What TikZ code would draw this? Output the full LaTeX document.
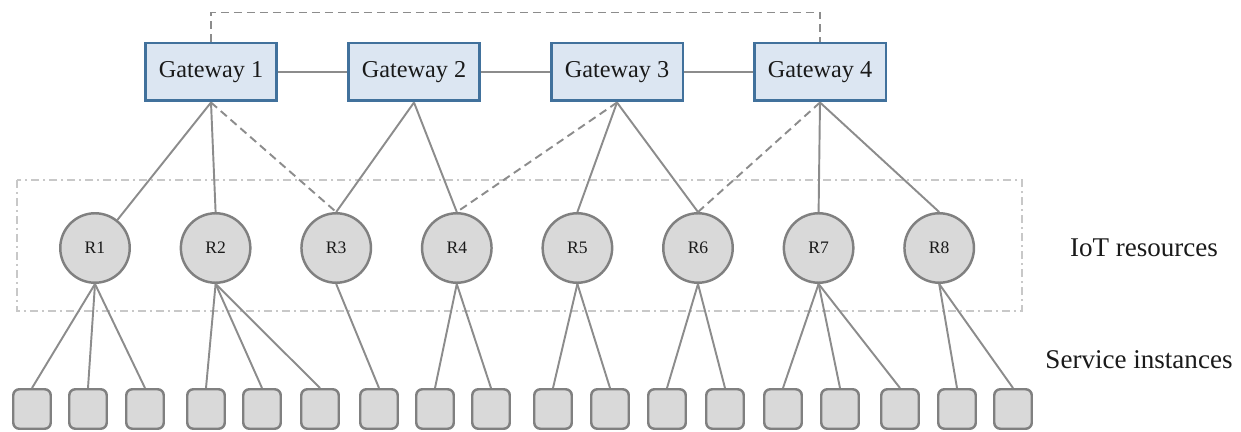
\documentclass[tikz,border=0pt]{standalone}
\usepackage{fontspec}
\setmainfont{Liberation Serif}
\usepackage{tikz}
\usetikzlibrary{positioning}
\usetikzlibrary{calc}
\definecolor{gwfill}{HTML}{DCE6F2}
\definecolor{gwdraw}{HTML}{41719C}
\definecolor{resfill}{HTML}{D9D9D9}
\definecolor{resdraw}{HTML}{808080}
\definecolor{linkcol}{HTML}{8C8C8C}
\definecolor{groupcol}{HTML}{C8C8C8}
\definecolor{txtcol}{HTML}{1A1A1A}

\begin{document}
\begin{tikzpicture}[
  x=0.02cm, y=-0.02cm,
  link/.style ={
    draw=linkcol, line width=1.1pt
  },
  backup/.style ={
    link, dash pattern=on 0.16cm off 0.1cm
  },
  gw/.style={
    rectangle,
    draw=gwdraw,
    fill=gwfill,
    line width=1.7pt,
    minimum width=2.64cm,
    minimum height=1.16cm,
    inner sep=0pt,
    text=txtcol,
    font=\fontsize{13.8}{16}\selectfont},
  res/.style={
    circle,
    minimum width=1.39cm,
    inner sep=0pt,
    line width=1.4pt,
    draw=resdraw,
    fill=resfill,
    text=txtcol,
    font=\fontsize{10}{12}\selectfont},
  inst/.style={
    rectangle,
    rounded corners=0.12cm,
    minimum width=0.75cm,
    minimum height=0.79cm,
    inner sep=0pt,
    line width=1.4pt,
    draw=resdraw,
    fill=resfill},
  lbl/.style={
    text=txtcol,
    font=\fontsize{15.4}{18}\selectfont},
  group/.style={
    draw=groupcol, line width=0.8pt,
    dash pattern=on 0.16cm off 0.08cm on 0.04cm off 0.08cm},
]

  \useasboundingbox (0,0) rectangle (1241,432);

  \def\gwstep{203}%
  \def\resstep{120.6}%

    % Resource group
    \draw[group] (17,180) rectangle (1022,311);

    % Gateways
    \foreach \step in {1,...,4} {
        \node[gw] (gw_\step) at (211 + \gwstep*\step - \gwstep, 72) {Gateway \step};
    }
    \foreach \start [count=\stop from 2] in {1,...,3} {
        \draw[link] (gw_\start.east) to (gw_\stop.west);
    }
    \draw[backup] (gw_1.north) -- ([yshift=0.58cm]gw_1.north) -| (gw_4.north);

    % IoT resources
    \foreach \step in {1,...,8} {
        \node[res] (res_\step) at (95 + \resstep*\step - \resstep, 248) {R\step};
    }

    % Service instances
    \foreach \x [count=\i from 1] in {32,88,145,206,262,320,379,435,491,553,610,667,725,783,840,900,957,1013} {
        \node[inst] (inst_\i) at (\x, 409) {};
    }

    % Gateway -- resource links
    \draw[link] (gw_1.south) to (res_1);
    \foreach \g/\r in {1/2,2/3,2/4,3/5,3/6,4/7,4/8} {
        \draw[link] (gw_\g.south) to (res_\r.north);
    }
    \foreach \g/\r in {1/3,3/4,4/6} {
        \draw[backup] (gw_\g.south) to (res_\r.north);
    }

    % Resource -- instance links
    \foreach \r/\i in {1/1,1/2,1/3,2/4,2/5,2/6,3/7,4/8,4/9,5/10,5/11,6/12,6/13,7/14,7/15,7/16,8/17,8/18} {
        \draw[link] (res_\r.south) to (inst_\i.north);
    }

    \node[lbl] (lbl_res) at (1144, 248) {IoT resources};
    \node[lbl] (lbl_inst) at (1139, 360) {Service instances};

\end{tikzpicture}
\end{document}
